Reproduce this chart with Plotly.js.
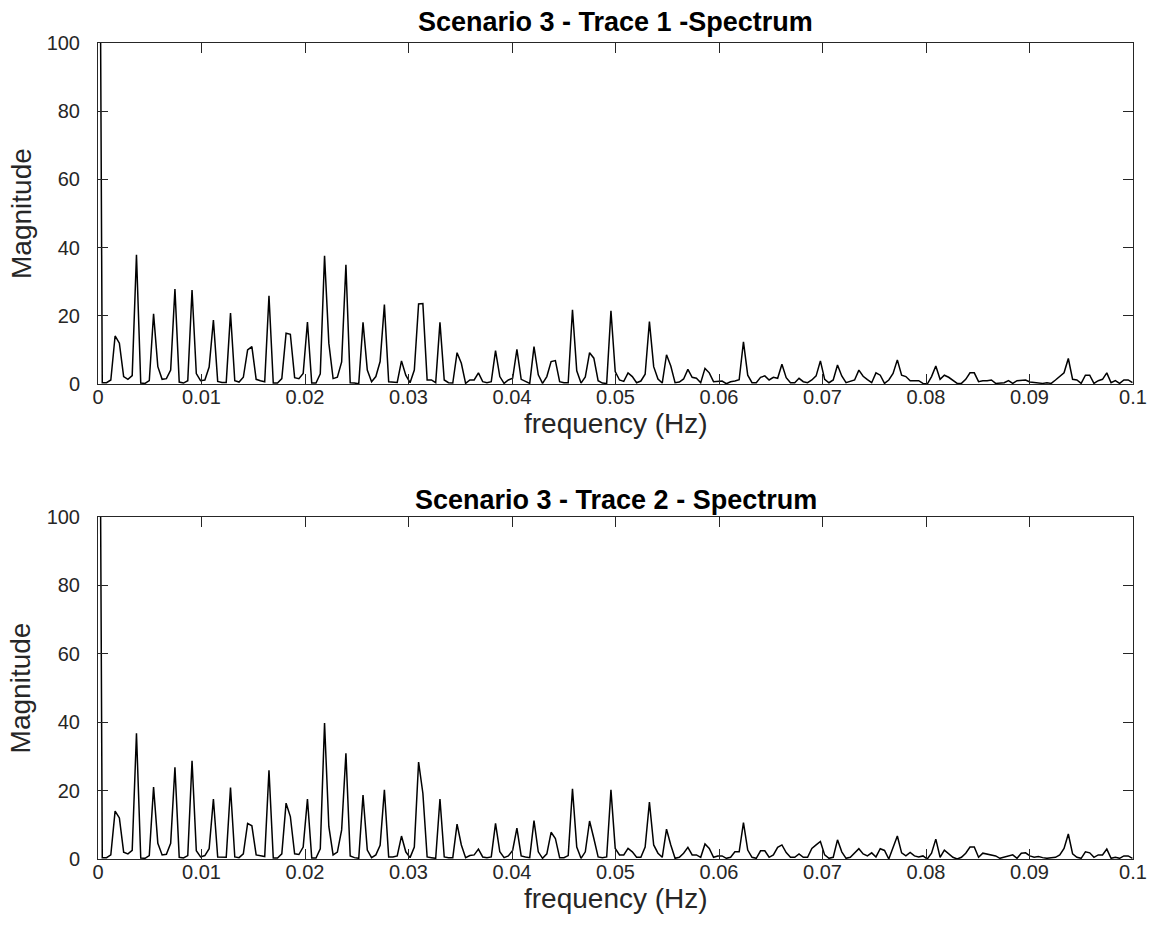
<!DOCTYPE html>
<html>
<head>
<meta charset="utf-8">
<script src="https://cdn.plot.ly/plotly-3.0.1.min.js"></script>
<style>
html,body{margin:0;padding:0;background:#fff;}
#chart{width:1151px;height:936px;}
</style>
</head>
<body>
<div id="chart"></div>
<script>
// frequency bin spacing (Hz) of the spectrum samples
const binWidth = 0.000413;

const trace1Magnitude = [
260,0.4,0.4,1.2,14.1,12,2.2,1.4,2.5,37.9,
0.3,0.2,1.0,20.6,5.1,1.4,1.6,4.1,27.9,0.6,
0.3,1.0,27.6,3.1,1.0,1.2,5,18.8,0.8,0.5,
0.5,20.8,1,0.6,2,10,11,1.4,1,0.7,
25.9,0.3,0.3,1.6,14.9,14.6,1.9,1.6,3.1,18.2,
0.3,0.3,3,37.6,12,1.6,2,6.5,35,0.4,
0.3,0.1,18.1,4.1,0.7,2.2,6.6,23.3,0.7,0.7,
0.5,6.8,2.6,0.4,4.1,23.5,23.6,1.2,1.2,0.4,
18.1,1.2,0.4,0.3,9.2,6.1,0.2,1.2,1.2,3.3,
0.7,0.4,0.7,9.8,2.2,0.2,1.2,1.7,10.2,1.4,
0.7,0.2,11,2.7,0.2,2.2,6.6,6.9,0.7,0.4,
0.4,21.8,3.9,0.3,2.1,9.2,7.6,1.0,0.3,0.2,
21.5,3.7,1.2,0.8,3.3,2.2,0.4,0.9,2.9,18.3,
5.1,1.5,0.3,8.6,5.3,0.4,0.6,1.5,4.3,2.0,
1.7,0.4,4.6,3.3,0.7,0.9,0.9,0.1,0.7,0.9,
1.3,12.4,2.6,0.4,0.4,2.0,2.4,1.2,2.0,1.7,
5.8,1.9,0.4,0.4,1.7,0.7,0.4,1.2,2.4,6.8,
1.4,0.4,1.2,5.6,2.4,0.4,0.7,1.2,4.1,2.3,
1.3,0.4,3.3,2.6,0.2,1.2,3.1,7.1,2.6,2.2,
1.0,1.0,1.0,0.2,0.0,2.2,5.3,1.4,2.6,2.0,
1.0,0.2,0.2,1.4,3.3,3.3,0.7,1.0,1.0,1.2,
0.2,0.3,0.4,1.0,0.2,1.0,1.2,1.2,0.6,0.4,
0.4,0.2,0.4,0.2,1.2,2.2,3.3,7.5,1.4,1.2,
0.2,2.6,2.6,0.2,1.0,1.4,3.3,0.4,1.0,0.2,
1.2,1.2,0.4
];

const trace2Magnitude = [
260,0.4,0.4,1.2,14,12,2,1.5,2.5,36.7,
0.3,0.2,1,21,4.6,1.2,1.4,4.6,26.8,0.5,
0.3,1,28.7,2.4,0.6,1,3,17.5,0.6,0.5,
0.5,20.9,0.6,0.4,1.5,10.4,9.7,1.2,1,0.7,
25.9,0.3,0.3,1.5,16.3,12.4,1.5,1.3,3.5,17.5,
0.3,0.3,3,39.7,9.5,1.2,2,8.5,30.9,0.9,
0.4,0.2,18.7,2.6,0.4,1.2,4,20.2,0.6,0.6,
0.9,6.7,2.1,0.4,3.5,28.3,19.2,0.6,0.4,0.2,
17.5,0.6,0.4,0.4,10.2,4.1,0.4,1,1.2,2.9,
0.6,0.4,0.6,10.4,2.1,0.4,0.9,2.5,9,0.9,
0.6,0.4,11.2,2.1,0.2,1.5,7.8,6,0.4,0.4,
1,20.5,3.5,0.2,2.1,11.1,6,0.6,0.4,0.6,
20.2,3.1,1.2,1.2,3.1,2.1,0.5,0.5,3.5,16.6,
4.1,1.7,0.5,8.7,4.1,0.2,0.5,1.7,3.4,1.2,
1.2,0.5,4.4,3.1,0.5,0.9,0.9,0.2,0.5,2.1,
2.1,10.6,2.6,0.5,0.2,2.4,2.4,0.5,1.2,3.4,
4.1,1.9,0.5,0.5,1.5,0.5,0.5,3.1,4.1,5.1,
1.2,0.2,0.5,5.6,2.1,0.2,0.5,1.7,3.0,1.5,
0.9,1.8,0.6,3.0,2.5,0,3.1,6.7,1.8,0.9,
1.9,0.9,0.6,0.9,0,1.7,5.8,0.5,2.6,1.5,
0.5,0,0.5,1.7,3.5,3.5,0.5,1.7,1.5,1.2,
0.9,0.2,0.5,0.7,1.2,0.2,1.7,1.8,0.9,0.5,
0.7,0.4,0.2,0.4,0.5,1.2,3.1,7.3,1.5,0.5,
0.2,2.1,1.8,0.5,1.2,1.2,2.9,0.2,0.5,0.2,
0.9,0.9,0.2
];

const xTickVals = [0,0.01,0.02,0.03,0.04,0.05,0.06,0.07,0.08,0.09,0.1];
const xTickText = ['0','0.01','0.02','0.03','0.04','0.05','0.06','0.07','0.08','0.09','0.1'];
const yTickVals = [0,20,40,60,80,100];
const yTickText = ['0','20','40','60','80','100'];

const titles = ['Scenario 3 - Trace 1 -Spectrum', 'Scenario 3 - Trace 2 - Spectrum'];
const xLabel = 'frequency (Hz)';
const yLabel = 'Magnitude';

const freq1 = trace1Magnitude.map((_, i) => i * binWidth);
const freq2 = trace2Magnitude.map((_, i) => i * binWidth);

const FONT = 'Liberation Sans, Arial, Helvetica, sans-serif';
const AX = '#262626';

function xAxis(anchor) {
  return {
    anchor: anchor, domain: [0, 1], range: [0, 0.1],
    tickmode: 'array', tickvals: xTickVals, ticktext: xTickText,
    ticks: 'inside', ticklen: 10, tickwidth: 1, tickcolor: AX,
    showline: true, linecolor: AX, linewidth: 1, mirror: 'ticks',
    showgrid: false, zeroline: false, ticklabelstandoff: -5,
    tickfont: {family: FONT, size: 20, color: AX}
  };
}
function yAxis(anchor, domain) {
  return {
    anchor: anchor, domain: domain, range: [0, 100],
    tickmode: 'array', tickvals: yTickVals, ticktext: yTickText,
    ticks: 'inside', ticklen: 10, tickwidth: 1, tickcolor: AX,
    showline: true, linecolor: AX, linewidth: 1, mirror: 'ticks',
    showgrid: false, zeroline: false, ticklabelstandoff: 13,
    tickfont: {family: FONT, size: 20, color: AX}
  };
}

const data = [
  {x: freq1, y: trace1Magnitude, type: 'scatter', mode: 'lines',
   line: {color: '#000000', width: 1.5}, xaxis: 'x', yaxis: 'y', hoverinfo: 'x+y'},
  {x: freq2, y: trace2Magnitude, type: 'scatter', mode: 'lines',
   line: {color: '#000000', width: 1.5}, xaxis: 'x2', yaxis: 'y2', hoverinfo: 'x+y'}
];

const layout = {
  width: 1151, height: 936,
  margin: {l: 98, r: 18, t: 43, b: 77},
  paper_bgcolor: '#ffffff', plot_bgcolor: '#ffffff',
  showlegend: false,
  xaxis: xAxis('y'),
  yaxis: yAxis('x', [0.582, 1]),
  xaxis2: xAxis('y2'),
  yaxis2: yAxis('x2', [0, 0.4197]),
  annotations: [
    {text: titles[0], xref: 'paper', yref: 'paper', x: 0.5, y: 1.0257, showarrow: false,
     xanchor: 'center', yanchor: 'middle', font: {family: FONT, size: 27, color: '#000', weight: 'bold'}},
    {text: titles[1], xref: 'paper', yref: 'paper', x: 0.5, y: 0.440, showarrow: false,
     xanchor: 'center', yanchor: 'middle', font: {family: FONT, size: 27, color: '#000', weight: 'bold'}},
    {text: xLabel, xref: 'paper', yref: 'paper', x: 0.5, y: 0.5331, showarrow: false,
     xanchor: 'center', yanchor: 'middle', font: {family: FONT, size: 28, color: AX}},
    {text: xLabel, xref: 'paper', yref: 'paper', x: 0.5, y: -0.049, showarrow: false,
     xanchor: 'center', yanchor: 'middle', font: {family: FONT, size: 28, color: AX}},
    {text: yLabel, xref: 'paper', yref: 'paper', x: -0.074, y: 0.791, showarrow: false, textangle: -90,
     xanchor: 'center', yanchor: 'middle', font: {family: FONT, size: 28, color: AX}},
    {text: yLabel, xref: 'paper', yref: 'paper', x: -0.074, y: 0.2096, showarrow: false, textangle: -90,
     xanchor: 'center', yanchor: 'middle', font: {family: FONT, size: 28, color: AX}}
  ]
};

Plotly.newPlot('chart', data, layout, {displayModeBar: false, staticPlot: true});
</script>
</body>
</html>
